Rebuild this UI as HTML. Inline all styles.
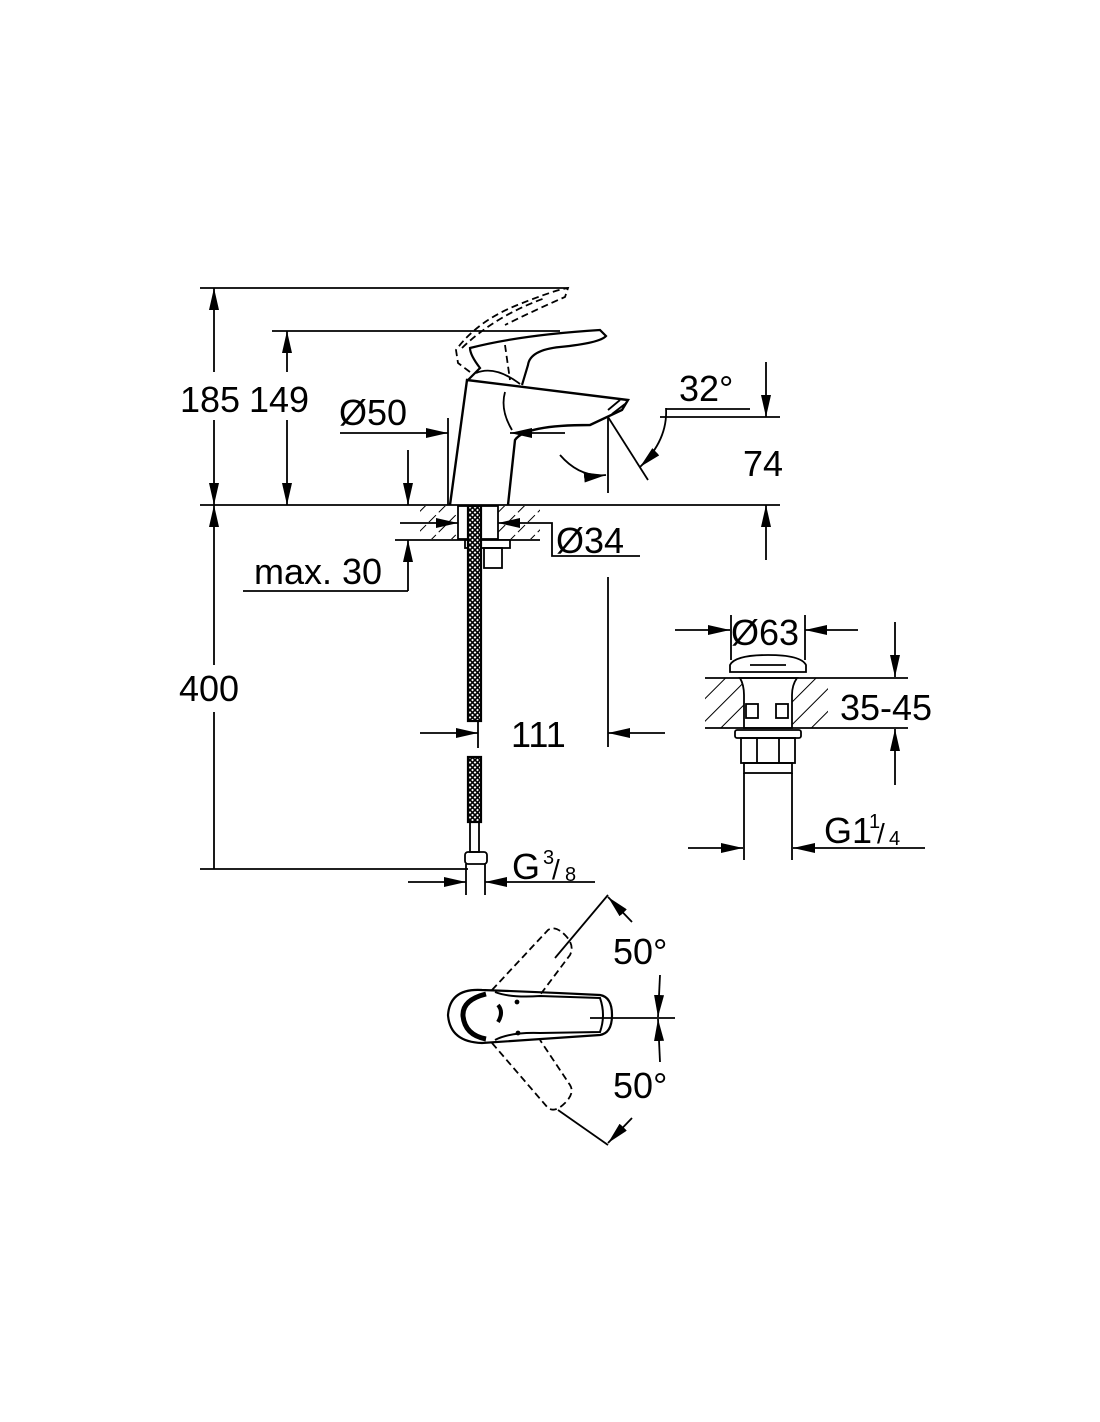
<!DOCTYPE html>
<html><head><meta charset="utf-8"><style>
html,body{margin:0;padding:0;background:#fff}
svg{display:block}
text{font-family:"Liberation Sans",Arial,sans-serif;fill:#000}
</style></head><body>
<svg width="1100" height="1422" viewBox="0 0 1100 1422" xmlns="http://www.w3.org/2000/svg">
<defs>
<marker id="a" viewBox="0 0 22 10" refX="22" refY="5" markerWidth="22" markerHeight="10" markerUnits="userSpaceOnUse" orient="auto-start-reverse"><path d="M0,0 L22,5 L0,10z" fill="#000"/></marker>
<pattern id="h" patternUnits="userSpaceOnUse" width="14" height="14" patternTransform="rotate(45)"><line x1="0" y1="0" x2="0" y2="14" stroke="#000" stroke-width="2" stroke-dasharray="10,4"/></pattern>
<pattern id="h2" patternUnits="userSpaceOnUse" width="16" height="16" patternTransform="rotate(45)"><line x1="0" y1="0" x2="0" y2="16" stroke="#000" stroke-width="2"/></pattern>
<pattern id="braid" patternUnits="userSpaceOnUse" width="5" height="5"><rect width="5" height="5" fill="#fff"/><path d="M0,0 L5,5 M5,0 L0,5" stroke="#000" stroke-width="1.6"/></pattern>
</defs>
<g stroke="#000" stroke-width="1.8" fill="none">
<line x1="200" y1="288" x2="568" y2="288"/>
<line x1="272" y1="331" x2="560" y2="331"/>
<line x1="200" y1="505" x2="780" y2="505"/>
<line x1="200" y1="869" x2="468" y2="869"/>
<line x1="214" y1="288" x2="214" y2="372" marker-start="url(#a)"/>
<line x1="214" y1="420" x2="214" y2="505" marker-end="url(#a)"/>
<line x1="287" y1="331" x2="287" y2="372" marker-start="url(#a)"/>
<line x1="287" y1="420" x2="287" y2="505" marker-end="url(#a)"/>
<line x1="214" y1="505" x2="214" y2="665" marker-start="url(#a)"/>
<line x1="214" y1="712" x2="214" y2="869"/>
<line x1="340" y1="433" x2="448" y2="433" marker-end="url(#a)"/>
<line x1="565" y1="433" x2="510" y2="433" marker-end="url(#a)"/>
<line x1="448" y1="418" x2="448" y2="505"/>
<line x1="408" y1="450" x2="408" y2="505" marker-end="url(#a)"/>
<line x1="408" y1="591" x2="408" y2="540" marker-end="url(#a)"/>
<line x1="243" y1="591" x2="408" y2="591"/>
<line x1="395" y1="540" x2="540" y2="540"/>
<rect x="420" y="506" width="120" height="33" fill="url(#h)" stroke="none"/>
<rect x="458" y="506" width="40" height="33" fill="#fff" stroke="#000"/>
<line x1="400" y1="523" x2="458" y2="523" marker-end="url(#a)"/>
<line x1="540" y1="523" x2="498" y2="523" marker-end="url(#a)"/>
<polyline points="540,523 552,523 552,556 640,556"/>
<rect x="465" y="540" width="45" height="8" fill="#fff"/>
<rect x="484" y="548" width="18" height="20"/>
<rect x="468" y="506" width="13" height="215" fill="url(#braid)" stroke-width="2.2"/>
<rect x="468" y="757" width="13" height="65" fill="url(#braid)" stroke-width="2.2"/>
<rect x="470" y="822" width="9" height="30"/>
<rect x="465" y="852" width="22" height="12" rx="3"/>
<line x1="466" y1="864" x2="466" y2="895"/>
<line x1="485" y1="864" x2="485" y2="895"/>
<line x1="408" y1="882" x2="466" y2="882" marker-end="url(#a)"/>
<line x1="595" y1="882" x2="485" y2="882" marker-end="url(#a)"/>
<line x1="420" y1="733" x2="478" y2="733" marker-end="url(#a)"/>
<line x1="665" y1="733" x2="608" y2="733" marker-end="url(#a)"/>
<line x1="478" y1="720" x2="478" y2="748"/>
<line x1="608" y1="577" x2="608" y2="747"/>
<path d="M450,505 L467,380 L628,400 L622,410 L590,425 Q525,425 515,440 L508,505" stroke-width="2.4"/>
<path d="M608,410 L620,400 M612,414 L625,404"/>
<path d="M505,392 Q500,410 512,430"/>
<path d="M468,380 L480,368 Q470,355 470,348 Q520,335 600,330 L606,336 Q600,343 560,347 Q530,350 528,365 L522,385" stroke-width="2.2"/>
<path d="M476,373 Q495,365 520,384"/>
<g stroke-dasharray="7,4">
<path d="M470,372 L458,363 L456,350 Q478,320 520,304 Q555,290 568,288 L565,297 Q535,310 505,325"/>
<path d="M462,348 Q495,316 545,298"/>
<path d="M505,345 L510,380"/>
</g>
<line x1="660" y1="417" x2="780" y2="417"/>
<line x1="766" y1="362" x2="766" y2="417" marker-end="url(#a)"/>
<line x1="766" y1="560" x2="766" y2="505" marker-end="url(#a)"/>
<line x1="608" y1="417" x2="608" y2="493"/>
<line x1="608" y1="417" x2="648" y2="480"/>
<line x1="666" y1="409" x2="750" y2="409"/>
<path d="M666,408 Q668,440 640,467" marker-end="url(#a)"/>
<path d="M560,455 Q580,478 606,475" marker-end="url(#a)"/>
<line x1="675" y1="630" x2="730" y2="630" marker-end="url(#a)"/>
<line x1="858" y1="630" x2="805" y2="630" marker-end="url(#a)"/>
<line x1="731" y1="615" x2="731" y2="660"/>
<line x1="805" y1="615" x2="805" y2="660"/>
<path d="M730,665 Q735,655 768,655 Q801,655 806,665 L806,672 L730,672Z"/>
<line x1="750" y1="665" x2="786" y2="665"/>
<rect x="705" y="678" width="123" height="50" fill="url(#h2)" stroke="none"/>
<path d="M740,678 Q744,685 744,695 L744,728 L792,728 L792,695 Q792,685 797,678Z" fill="#fff"/>
<line x1="705" y1="678" x2="908" y2="678"/>
<line x1="705" y1="728" x2="908" y2="728"/>
<rect x="746" y="704" width="12" height="14"/><rect x="776" y="704" width="12" height="14"/>
<rect x="735" y="730" width="66" height="8" rx="2"/>
<rect x="741" y="738" width="54" height="25"/>
<line x1="757" y1="738" x2="757" y2="763"/><line x1="779" y1="738" x2="779" y2="763"/>
<rect x="744" y="763" width="48" height="10"/>
<line x1="744" y1="773" x2="744" y2="860"/>
<line x1="792" y1="773" x2="792" y2="860"/>
<line x1="895" y1="622" x2="895" y2="677" marker-end="url(#a)"/>
<line x1="895" y1="785" x2="895" y2="729" marker-end="url(#a)"/>
<line x1="688" y1="848" x2="743" y2="848" marker-end="url(#a)"/>
<line x1="925" y1="848" x2="793" y2="848" marker-end="url(#a)"/>
<path d="M482,990 Q450,988 448,1015 Q450,1042 482,1043 L600,1035 Q612,1033 612,1015 Q612,997 600,995 Q540,992 482,990Z" stroke-width="2.2"/>
<path d="M486,994 Q462,1000 463,1016 Q465,1035 486,1039" stroke-width="5"/>
<path d="M495,992 Q510,998 540,996 L600,998 Q606,1015 600,1032 L540,1033 Q510,1032 495,1040" stroke-width="2"/>
<path d="M498,1005 Q504,1012 498,1022" stroke-width="4"/>
<circle cx="517" cy="1002" r="1.5" fill="#000"/><circle cx="518" cy="1033" r="1.5" fill="#000"/>
<line x1="590" y1="1018" x2="675" y2="1018"/>
<line x1="608" y1="895" x2="555" y2="958"/>
<line x1="558" y1="1110" x2="608" y2="1145"/>
<g stroke-dasharray="7,4">
<path d="M492,990 L548,930 Q555,925 565,935 Q575,945 570,955 L540,995"/>
<path d="M492,1043 L548,1108 Q555,1113 565,1103 Q575,1093 570,1085 L540,1040"/>
</g>
<path d="M608,897 L632,922" marker-start="url(#a)"/>
<line x1="660" y1="975" x2="658" y2="1017" marker-end="url(#a)"/>
<line x1="660" y1="1062" x2="658" y2="1019" marker-end="url(#a)"/>
<path d="M608,1143 L632,1118" marker-start="url(#a)"/>
</g>
<g font-size="36">
<text x="180" y="412">185</text>
<text x="249" y="412">149</text>
<text x="339" y="425">Ø50</text>
<text x="679" y="401">32°</text>
<text x="743" y="476">74</text>
<text x="556" y="553">Ø34</text>
<text x="254" y="584">max. 30</text>
<text x="179" y="701">400</text>
<text x="511" y="747">111</text>
<text x="731" y="645">Ø63</text>
<text x="840" y="720">35-45</text>
<text x="824" y="843">G1</text>
<text x="869" y="828" font-size="20">1</text>
<text x="877" y="843" font-size="28">/</text>
<text x="889" y="845" font-size="20">4</text>
<text x="512" y="879">G</text>
<text x="543" y="864" font-size="20">3</text>
<text x="552" y="879" font-size="28">/</text>
<text x="565" y="881" font-size="20">8</text>
<text x="613" y="964">50°</text>
<text x="613" y="1098">50°</text>
</g>
</svg>
</body></html>
